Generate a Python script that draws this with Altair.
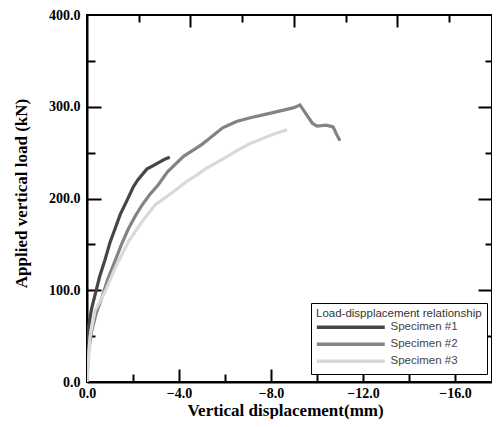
import altair as alt
import pandas as pd

# ---- data ----
s1_disp = [0.0, -0.03, -0.2, -0.35, -0.55, -0.78, -1.0, -1.22, -1.45, -1.74, -2.0, -2.2, -2.6, -2.9, -3.17, -3.4, -3.6]
s1_load = [0, 55, 80, 95, 115, 133, 152, 167, 183, 198, 212, 220, 232, 236, 240, 243, 245]

s2_disp = [0.0, -0.05, -0.2, -0.4, -0.65, -0.9, -1.22, -1.5, -1.8, -2.1, -2.4, -2.75, -3.1, -3.5, -4.2, -5.0, -5.9,
           -6.5, -7.1, -7.8, -8.5, -9.0, -9.26, -9.5, -9.8, -10.0, -10.4, -10.7, -10.85, -11.0]
s2_load = [0, 30, 55, 75, 92, 112, 132, 150, 167, 181, 193, 205, 215, 229, 246, 259, 277,
           284, 288, 292, 296, 299, 302, 293, 282, 279, 280, 278, 270, 263]

s3_disp = [0.0, -0.13, -0.35, -0.78, -1.22, -1.8, -2.4, -2.96, -3.74, -4.3, -4.8, -5.2, -5.9, -6.5,
           -7.1, -7.6, -8.1, -8.7]
s3_load = [0, 49, 78, 98, 124, 153, 175, 193, 207, 218, 226, 233, 243, 252,
           260, 265, 270, 275]

series_names = ["Specimen #1", "Specimen #2", "Specimen #3"]
series_colors = ["#464646", "#838383", "#d9d9d9"]

x_labels = [0, -4, -8, -12, -16]
x_minor = [-2, -6, -10, -14]
top_major = [-4.5, -9, -13.5]
top_minor = [-2.25, -6.75, -11.25, -15.75]
y_labels = [0, 100, 200, 300, 400]
y_major = [100, 200, 300]
y_minor = [50, 150, 250, 350]

rows = []
for name, xs_, ys_ in zip(series_names, [s1_disp, s2_disp, s3_disp], [s1_load, s2_load, s3_load]):
    for i, (a, b) in enumerate(zip(xs_, ys_)):
        rows.append({"specimen": name, "disp": a, "load": b, "idx": i})
df = pd.DataFrame(rows)

SERIF = "Liberation Serif"
SANS = "Liberation Sans"

xscale = alt.Scale(domain=[-17.61, 0], reverse=True, nice=False, zero=False)
yscale = alt.Scale(domain=[0, 400], nice=False)

lines = alt.Chart(df).mark_line(strokeWidth=3.2, clip=True).encode(
    x=alt.X("disp:Q", scale=xscale,
            axis=alt.Axis(orient="bottom", values=x_labels, format=".1f", title="Vertical displacement(mm)",
                          tickSize=0, labelPadding=4, domainWidth=2, domainColor="black", grid=False,
                          labelFont=SERIF, labelFontWeight="bold", labelFontSize=14, labelColor="black",
                          titleFont=SERIF, titleFontWeight="bold", titleFontSize=17, titleColor="black",
                          titleBaseline="alphabetic", titleY=33.5, titleX=198, labelFlush=False)),
    y=alt.Y("load:Q", scale=yscale,
            axis=alt.Axis(orient="left", values=y_labels, format=".1f", title="Applied vertical load (kN)",
                          tickSize=0, labelPadding=7, domainWidth=2, domainColor="black", grid=False,
                          labelFont=SERIF, labelFontWeight="bold", labelFontSize=14, labelColor="black",
                          titleFont=SERIF, titleFontWeight="bold", titleFontSize=17, titleColor="black",
                          titleX=-57, titleY=178, labelFlush=False)),
    color=alt.Color("specimen:N",
                    scale=alt.Scale(domain=series_names, range=series_colors),
                    legend=alt.Legend(title="Load-dispplacement relationship", orient="none",
                                      legendX=224, legendY=288, padding=5,
                                      strokeColor="black", fillColor="white",
                                      titleFont=SANS, titleFontWeight="normal", titleFontSize=11.5,
                                      titleColor="#333333", titlePadding=2,
                                      labelFont=SANS, labelFontSize=11.5, labelColor="#444444",
                                      symbolType="M-1.4,0H18", symbolSize=49, symbolStrokeWidth=3.5,
                                      labelOffset=63, rowPadding=2)),
    order="idx:Q",
)


def tick_layer(xorient, xvals, xlen, yorient, yvals, ylen):
    return alt.Chart(df).mark_point(opacity=0).encode(
        x=alt.X("disp:Q", scale=xscale,
                axis=alt.Axis(orient=xorient, values=xvals, offset=-xlen, tickSize=xlen, tickWidth=2,
                              tickColor="black", labels=False, domain=False, grid=False, title=None)),
        y=alt.Y("load:Q", scale=yscale,
                axis=alt.Axis(orient=yorient, values=yvals, offset=-ylen, tickSize=ylen, tickWidth=2,
                              tickColor="black", labels=False, domain=False, grid=False, title=None)),
    )


t1 = tick_layer("bottom", x_labels[1:], 13, "left", y_major, 14)
t2 = tick_layer("bottom", x_minor, 8, "left", y_minor, 8)
t3 = tick_layer("top", top_major, 12, "right", y_major, 14)
t4 = tick_layer("top", top_minor, 7, "right", y_minor, 7)

chart = alt.layer(lines, t1, t2, t3, t4).resolve_axis(x="independent", y="independent").properties(
    width=405, height=367,
    autosize=alt.AutoSizeParams(type="none"),
    padding={"left": 79, "top": 7, "right": 0, "bottom": 37},
    background="white",
).configure_view(stroke="black", strokeWidth=2)

chart.save("out.html", embed_options={"renderer": "svg", "actions": False})
